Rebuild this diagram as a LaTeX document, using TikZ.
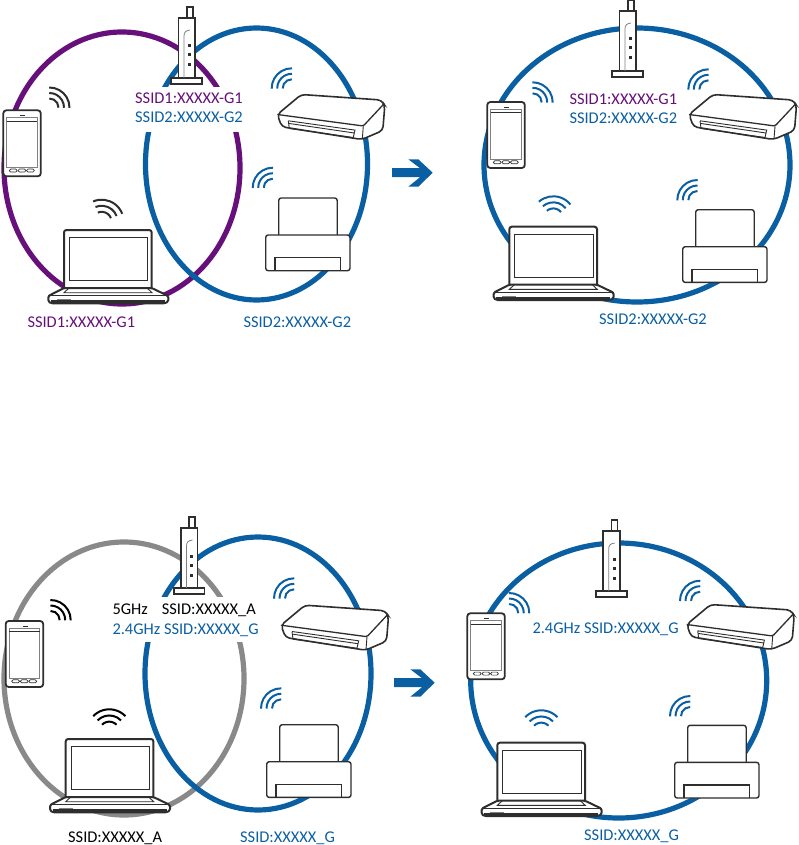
\documentclass[tikz,border=0pt]{standalone}
\usepackage{fontspec}
\setmainfont{Carlito}
\usepackage{tikz}
\definecolor{netblue}{HTML}{0A5FA3}
\definecolor{netpurple}{HTML}{670F7A}
\definecolor{netgray}{HTML}{898989}
\definecolor{devline}{HTML}{2E2E2E}

\begin{document}
\begin{tikzpicture}[
  x=1pt, y=-1pt,
  every node/.style={font=\fontsize{16.4}{19}\selectfont, inner sep=0pt, anchor=base west},
  loop/.style={draw, line width=5.2pt},
  dev/.style={draw=devline, fill=white, line width=1.8pt},
  devthin/.style={draw=devline, line width=0.9pt},
  mask/.style={fill=white, minimum width=112pt, minimum height=45pt, anchor=north west},
  pics/router/.style={code={
    \draw[dev] (-0.3,0) rectangle (5.7,12);
    \draw[dev] (-8.5,11) rectangle (8,71.5);
    \draw[dev] (-15.7,71) rectangle (15,77);
    \draw[draw=gray, line width=0.8pt] (-3,71) -- (-3,29) .. controls (-3,25) and (-1,23.5) .. (3,23);
    \foreach \y in {39,48,58} \fill[devline] (0.8,\y-1.5) rectangle (3.8,\y+1.5);
  }},
  pics/phone/.style={code={
    \draw[dev, rounded corners=3pt] (0,0) rectangle (37.5,66);
    \draw[draw=gray, line width=0.8pt] (3.3,7) rectangle (34,57.3);
    \draw[devthin] (3.3,10.7) -- (34,10.7);
    \draw[devthin] (17,5) -- (22,5);
    \foreach \x in {6,14.7,23.2}
      \draw[draw=devline, line width=0.7pt, rounded corners=1.4pt] (\x,58.8) rectangle (\x+7.8,61.8);
  }},
  pics/laptop/.style={code={
    \draw[dev, line width=2pt, rounded corners=2.5pt] (0,58) -- (0,0) -- (87.7,0) -- (87.7,58);
    \draw[devthin] (5.3,7.3) rectangle (83.7,50.7);
    \draw[dev, line width=2pt, rounded corners=1.5pt] (0,58) -- (87.7,58) -- (104.3,66) -- (104.3,71.5)
      -- (101,73.3) -- (-13,73.3) -- (-15.7,71.5) -- (-15.7,66) -- cycle;
    \draw[devthin] (5,58) -- (0,62.7) -- (88,62.7) -- (83,58);
    \draw[draw=devline, line width=1.3pt] (-15.7,65.5) -- (104.3,65.5);
    \draw[draw=devline, line width=2.8pt] (-13,71.6) -- (101,71.6);
    \draw[draw=gray, line width=1.2pt] (-7,69.8) -- (7,69.8);
  }},
  pics/printer/.style={code={
    \draw[dev, line width=1.4pt, rounded corners=2.5pt] (13,0.5) -- (13,-37) -- (71.5,-37) -- (71.5,0.5);
    \draw[dev, line width=1.4pt, rounded corners=2.5pt] (0,0) rectangle (84.3,35.7);
    \draw[draw=devline, line width=1.2pt] (9.3,35.7) -- (9.3,22.7) -- (75,22.7) -- (75,35.7);
  }},
  pics/scanner/.style={code={
    \draw[dev, line width=1.6pt, rounded corners=4pt] (0,0) -- (24,-20) -- (104,-14.5) -- (107.5,-9)
      -- (105.5,16) -- (84.5,25) -- (4.5,12.3) -- cycle;
    \draw[draw=devline, line width=1.3pt, rounded corners=1.5pt] (0,0) -- (86,11.5) -- (107,-11);
    \draw[devthin] (86,11.5) -- (85,24.5);
    \draw[devthin] (11,6.3) -- (77.7,15.6) -- (76,23) (12,9) -- (77,18.5) (11,6.3) -- (12,14) -- (76,23);
  }},
  pics/wifi/.style={code={
    \foreach \r in {9,14.5,20}
      \draw[draw=#1, line width=2pt] (-46:\r) arc[start angle=-46, end angle=46, radius=\r];
  }},
  pics/goarrow/.style={code={
    \fill[netblue] (0,-4.5) -- (28,-4.5) -- (16.3,-13.4) -- (26.3,-13.4) -- (40.7,0) -- (26.3,14)
      -- (16.3,14) -- (28,4.5) -- (0,4.5) -- cycle;
  }},
]
  \useasboundingbox (0,0) rectangle (798,845);

  % top left
  \draw[loop, netpurple] (122,168) ellipse [x radius=118, y radius=136];
  \draw[loop, netblue] (256.5,164) ellipse [x radius=111, y radius=136];
  \node[mask] (maskA) at (133,87) {};
  \pic at (187,7) {router};
  \pic at (3.3,110.3) {phone};
  \pic at (64,230) {laptop};
  \pic at (265.7,235) {printer};
  \pic at (277.3,114.5) {scanner};
  \pic[rotate=45] at (49.5,107.5) {wifi=devline};
  \pic[rotate=67, scale=1.1] at (101.7,221.7) {wifi=devline};
  \pic[rotate=135] at (291.7,88.3) {wifi=netblue};
  \pic[rotate=135] at (272.7,187.7) {wifi=netblue};
  \node[text=netpurple] (ssidA) at (135,103.3) {SSID1:XXXXX-G1};
  \node[text=netblue] (ssidB) at (135,122.3) {SSID2:XXXXX-G2};
  \node[text=netpurple] (leftA) at (27.3,327.3) {SSID1:XXXXX-G1};
  \node[text=netblue] (leftB) at (243.3,327.3) {SSID2:XXXXX-G2};

  \pic at (392,172.7) {goarrow};

  % top right
  \draw[loop, netblue] (637,165) ellipse [x radius=153, y radius=137];
  \pic at (628,0) {router};
  \pic at (487.3,102) {phone};
  \pic at (509.3,226.7) {laptop};
  \pic at (682.7,246.7) {printer};
  \pic at (689,114.5) {scanner};
  \pic[rotate=45] at (532.7,102.3) {wifi=netblue};
  \pic[rotate=85, scale=1.1] at (553.3,218.3) {wifi=netblue};
  \pic[rotate=135] at (708.3,89.3) {wifi=netblue};
  \pic[rotate=135] at (697.3,200) {wifi=netblue};
  \node[text=netpurple] (ssidC) at (569.3,104.3) {SSID1:XXXXX-G1};
  \node[text=netblue] (ssidD) at (569.3,123.3) {SSID2:XXXXX-G2};
  \node[text=netblue] (rightA) at (599,324.3) {SSID2:XXXXX-G2};

  % bottom left
  \draw[loop, netgray] (124,678.5) ellipse [x radius=120, y radius=136.5];
  \draw[loop, netblue] (258,673.5) ellipse [x radius=113, y radius=136.5];
  \node[mask] (maskB) at (133,597) {};
  \pic at (189.5,517) {router};
  \pic at (5.7,621) {phone};
  \pic at (65.7,739) {laptop};
  \pic at (266.7,761.7) {printer};
  \pic at (281,625.2) {scanner};
  \pic[rotate=45] at (50.7,620) {wifi=black};
  \pic[rotate=90, scale=1.12] at (109.3,731.7) {wifi=black};
  \pic[rotate=135] at (294,598.3) {wifi=netblue};
  \pic[rotate=135] at (281,708.3) {wifi=netblue};
  \node (freqA) at (112.3,614.7) {5GHz};
  \node (ssidE) at (161.7,614.7) {SSID:XXXXX\_A};
  \node[text=netblue] (ssidF) at (112.3,634) {2.4GHz SSID:XXXXX\_G};
  \node (leftC) at (68,842) {SSID:XXXXX\_A};
  \node[text=netblue] (leftD) at (240,842) {SSID:XXXXX\_G};

  \pic at (394,682.7) {goarrow};

  % bottom right
  \draw[loop, netblue] (618.7,680.5) ellipse [x radius=148, y radius=137.5];
  \pic at (611.7,520) {router};
  \pic at (467.3,613.3) {phone};
  \pic at (497.3,742.7) {laptop};
  \pic at (674.7,762.3) {printer};
  \pic at (686.7,624.5) {scanner};
  \pic[rotate=45] at (509.3,613) {wifi=netblue};
  \pic[rotate=90, scale=1.12] at (541.3,732.7) {wifi=netblue};
  \pic[rotate=135] at (700,600.7) {wifi=netblue};
  \pic[rotate=135] at (690,716) {wifi=netblue};
  \node[text=netblue] (ssidG) at (532.3,633.3) {2.4GHz SSID:XXXXX\_G};
  \node[text=netblue] (rightB) at (584,840.7) {SSID:XXXXX\_G};
\end{tikzpicture}
\end{document}
